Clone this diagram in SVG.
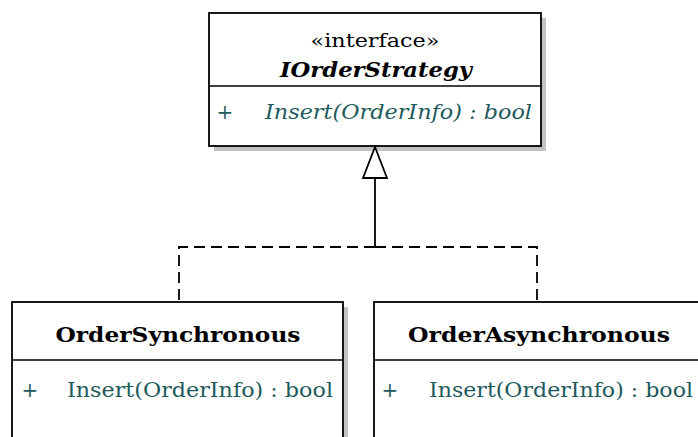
<svg xmlns="http://www.w3.org/2000/svg" width="698" height="437" viewBox="0 0 698 437">
  <style>
    .box { fill: #ffffff; stroke: #000000; stroke-width: 1.8; }
    .shadow { fill: #c2c2c2; }
    .sep { stroke: #000000; stroke-width: 1.6; }
    .title { font-family: "DejaVu Serif", "Liberation Serif", serif; font-size: 21px; font-weight: bold; fill: #000000; }
    .stereo { font-family: "DejaVu Serif", "Liberation Serif", serif; font-size: 19px; fill: #000000; }
    .member { font-family: "DejaVu Serif", "Liberation Serif", serif; font-size: 20px; fill: #1e5a5c; }
    .abstract { font-style: italic; }
    .edge { fill: none; stroke: #000000; stroke-width: 1.8; }
    .dashed { stroke-dasharray: 11 6; }
  </style>
  <rect width="698" height="437" fill="#ffffff"/>

  <!-- Interface: IOrderStrategy -->
  <g id="IOrderStrategy">
    <rect class="shadow" x="214" y="18" width="332" height="133"/>
    <rect class="box" x="209" y="13" width="332" height="133"/>
    <line class="sep" x1="209" y1="86" x2="541" y2="86"/>
    <text class="stereo" x="375" y="47" text-anchor="middle" textLength="129" lengthAdjust="spacingAndGlyphs">«interface»</text>
    <text class="title abstract" x="376" y="77" text-anchor="middle" textLength="192" lengthAdjust="spacingAndGlyphs">IOrderStrategy</text>
    <text class="member" x="225" y="119" text-anchor="middle">+</text>
    <text class="member abstract" x="265" y="119" textLength="267" lengthAdjust="spacingAndGlyphs">Insert(OrderInfo) : bool</text>
  </g>

  <!-- Class: OrderSynchronous -->
  <g id="OrderSynchronous">
    <rect class="shadow" x="17" y="307" width="331" height="140"/>
    <rect class="box" x="12" y="302" width="331" height="145"/>
    <line class="sep" x1="12" y1="360" x2="343" y2="360"/>
    <text class="title" x="178" y="342" text-anchor="middle" textLength="245" lengthAdjust="spacingAndGlyphs">OrderSynchronous</text>
    <text class="member" x="30" y="397" text-anchor="middle">+</text>
    <text class="member" x="67" y="397" textLength="266" lengthAdjust="spacingAndGlyphs">Insert(OrderInfo) : bool</text>
  </g>

  <!-- Class: OrderAsynchronous -->
  <g id="OrderAsynchronous">
    <rect class="shadow" x="379" y="307" width="331" height="140"/>
    <rect class="box" x="374" y="302" width="331" height="145"/>
    <line class="sep" x1="374" y1="360" x2="705" y2="360"/>
    <text class="title" x="539" y="342" text-anchor="middle" textLength="262" lengthAdjust="spacingAndGlyphs">OrderAsynchronous</text>
    <text class="member" x="390" y="397" text-anchor="middle">+</text>
    <text class="member" x="429" y="397" textLength="264" lengthAdjust="spacingAndGlyphs">Insert(OrderInfo) : bool</text>
  </g>

  <!-- Realization connectors -->
  <g id="connectors">
    <polyline class="edge" points="375,178 375,247"/>
    <polyline class="edge dashed" points="375,247 179,247 179,302"/>
    <polyline class="edge dashed" points="375,247 537,247 537,302"/>
    <polygon points="375,147 387,178 363,178" fill="#ffffff" stroke="#000000" stroke-width="1.8" stroke-linejoin="miter"/>
  </g>
</svg>
